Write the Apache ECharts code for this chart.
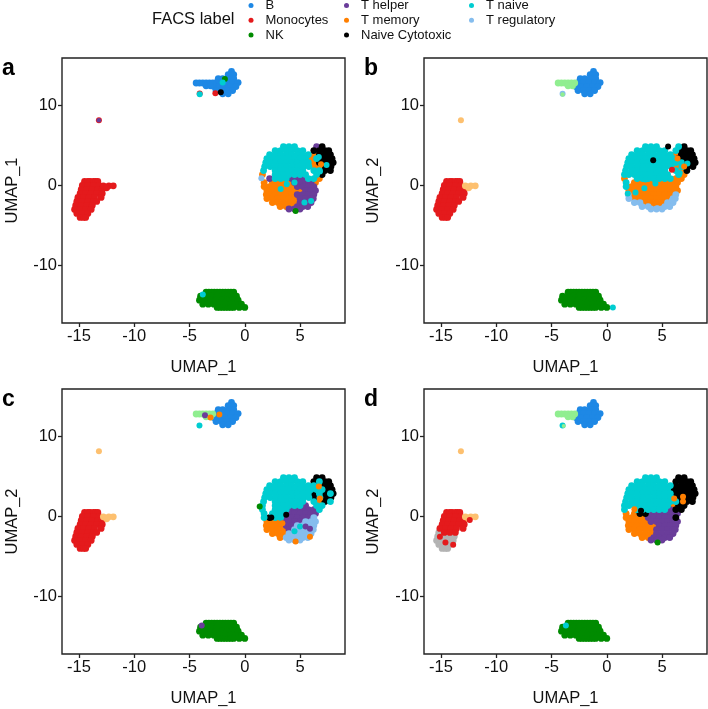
<!DOCTYPE html>
<html><head><meta charset="utf-8">
<style>html,body{margin:0;padding:0;background:#fff}#c{width:708px;height:709px}</style>
<script src="https://cdn.jsdelivr.net/npm/echarts@6/dist/echarts.min.js"></script>
</head><body><div id="c"></div>
<script>
// Rows are [y, x, x, x ...]: UMAP coordinates of visible cells
const legendCol1 = ['B','Monocytes','NK'];
const legendCol2 = ['T helper','T memory','Naive Cytotoxic'];
const legendCol3 = ['T naive','T regulatory'];
const xTicks = [-15,-10,-5,0,5];
const yTicks = [-10,0,10];

// shared islands
const bCore = [[14.2,-1.2],[13.8,-1.5,-1.0],[13.3,-2.4,-2,-1.5,-1],[12.8,-2.6,-2.1,-1.6,-1.1,-.6],[12.3,-2.8,-2.3,-1.8,-1.3,-.8],[11.8,-2.6,-2.1,-1.6,-1.1],[11.4,-2,-1.5]];
const bArm = [[12.75,-4.4,-4.1,-3.8,-3.5,-3.2,-2.9],[12.4,-3.5,-3.1]];
const monoCore = [[.45,-14.5,-14.2,-14,-13.7,-13.5,-13.3],[-.05,-14.7,-14.2,-13.7,-13.2],[-.55,-14.8,-14.3,-13.8,-13.3,-12.9],[-1.05,-14.9,-14.4,-13.9,-13.4,-12.9],[-1.55,-15.1,-14.6,-14.1,-13.6,-13],[-2.05,-15.2,-14.7,-14.2,-13.7,-13.4],[-2.55,-15.3,-14.8,-14.3,-13.8],[-3.05,-15.4,-14.9,-14.4,-13.9],[-3.55,-15.2,-14.7,-14.2],[-4.05,-14.9,-14.6,-14.4]];
const monoTail = [[-.1,-12.8,-12.3,-11.9],[-.35,-12.5]];
const nkCells = [[-13.4,-3.5,-3.25,-3,-2.75,-2.5,-2.25,-2,-1.75,-1.5,-1.25,-1],[-13.9,-4,-3.5,-3,-2.5,-2,-1.5,-1,-.75],[-14.4,-4.1,-3.6,-3.1,-2.6,-2.1,-1.6,-1.1,-.6],[-14.9,-3.8,-3.3,-2.8,-2.3,-1.8,-1.3,-.8,-.3],[-15.3,-2.5,-2.25,-2,-1.75,-1.5,-1.25,-1,-.5,0]];
const dMonoRed = [[.45,-14.5,-14.2,-14,-13.7,-13.5,-13.3],[-.05,-14.7,-14.2,-13.7,-13.2],[-.55,-14.8,-14.3,-13.8,-13.3,-12.9],[-1.05,-14.9,-14.4,-13.9,-13.4,-12.9],[-1.55,-15.1,-14.6,-14.1,-13.6,-13],[-2.05,-14.7,-14.2,-13.7]];
const dMonoGrey = [[-2.05,-15.2],[-2.55,-15.3,-14.8,-14.3,-13.8],[-3.05,-15.4,-14.9,-14.4,-13.9],[-3.55,-15.2,-14.7,-14.2],[-4.05,-14.9,-14.6,-14.4]];

// panel a
const aNaive = [[4.8,3.5,4,4.5],[4.3,2.75,3.25,3.75,4.25,4.75,5.25],[3.8,2.25,2.75,3.25,3.75,4.25,4.75,5.25,5.75],[3.3,2,2.5,3,3.5,4,4.5,5,5.5,6.5],[2.8,1.9,2.25,2.75,3.25,3.75,4.25,4.75,5.25,5.75],[2.3,1.8,2.3,2.8,3.3,3.8,4.3,4.8,5.3,5.8],[1.8,1.7,2.75,3.25,3.75,4.25,4.75,5.25,6.25,6.75],[1.3,2.75,3,3.5,4,4.5,5,5.5,6.5],[.8,2.75,3.25,3.75,5.75,6.25]];
const aCytotoxic = [[4.8,7],[4.3,6.25,6.75,7.25,7.6],[3.8,6.75,7.25,7.75],[3.3,7,7.5,7.9],[2.8,6.75,7.25,7.75,8],[2.3,7.3,7.8],[1.8,7.25,7.75],[1.3,7]];
const aMemory = [[3.8,6.25],[3.3,6],[2.8,6.25],[2.3,6.3,6.8],[1.3,1.6],[.8,6.75],[.3,1.75,2.5,3,3.5,4,6.4],[-.2,1.75,2.25,2.75,3.25,3.75,4.25],[-.7,2,2.5,3,3.5,4,4.5,5],[-1.2,1.95,2.25,2.75,3.25,3.75,4.25],[-1.7,2,2.5,3,3.5,4,4.5],[-2.2,2.5,3,3.5,4,4.5],[-2.7,3.2,3.75,4.25]];
const aHelper = [[4.8,6.5],[.8,2.25,4.25,4.75,5.25],[.3,4.5,5,5.5,6],[-.2,4.75,5.25,5.75,6.25],[-.7,5.5,6,6.4],[-1.2,4.75,5.25,5.75,6.25],[-1.7,5,5.5,6,6.2],[-2.2,5,5.5,6],[-2.7,4.75,5.25,5.7],[-3,4,4.5,5]];
const aStray = [[-13.2,8.1,'Monocytes'],[-13.2,8.1,'T helper',4.6],[-4.08,11.45,'Monocytes'],[-4.08,11.35,'T naive'],[-1.8,13.25,'NK'],[-2,12.8,'T naive'],[-2.66,11.46,'Monocytes'],[-2.17,11.58,'Naive Cytotoxic'],[-3.8,-13.7,'T naive'],[4.5,.3,'T naive'],[3.8,.1,'T naive'],[3.25,-.5,'T naive'],[5.4,-2.2,'T naive'],[6,-2,'T naive'],[1.5,.85,'T regulatory'],[4.6,-3.25,'NK'],[6.7,3.5,'T naive'],[7.4,2.5,'T naive'],[6.8,1.7,'T naive'],[6.9,2.6,'T memory']];

// panel b
const bNaive = [[4.8,3.5,4,4.5,6.5],[4.3,2.75,3.25,3.75,4.25,4.75,5.25,6.25],[3.8,2.25,2.75,3.25,3.75,4.25,4.75,5.25,5.75],[3.3,2,2.5,3,3.5,4,4.5,5,5.5,6],[2.8,1.9,2.25,2.75,3.25,3.75,4.25,4.75,5.25,5.75,6.25,6.75],[2.3,1.8,2.3,2.8,3.3,3.8,4.3,4.8,5.3,5.8,6.8],[1.8,1.7,2.25,2.75,3.25,3.75,4.25,4.75,5.25,6.25],[1.3,1.6,2,2.5,3,3.5,4,4.5,5,5.5,6.5],[.8,2.75,3.25,3.75,4.25,4.75,5.25,5.75],[.3,1.75],[-.2,1.75]];
const bCytotoxic = [[4.8,7],[4.3,6.75,7.25,7.6],[3.8,6.75,7.25,7.75],[3.3,6.5,7,7.5,7.9],[2.8,7.25,7.75,8],[2.3,7.3,7.8],[1.8,7.25]];
const bMemory = [[3.8,6.25],[2.3,6.3],[1.8,6.75],[1.3,7],[.8,1.6,6.25,6.75],[.3,2.5,3,3.5,4,4.5,5,5.5,6,6.4],[-.2,2.25,2.75,3.25,3.75,4.25,4.75,5.25,5.75,6.25],[-.7,2,2.5,3,3.5,4,4.5,5,5.5,6,6.4],[-1.2,2.25,2.75,3.25,3.75,4.25,4.75,5.25,5.75],[-1.7,2.5,3,3.5,4,4.5,5,5.5],[-2.2,3.5,4,4.5,5],[-2.7,4.25,4.75]];
const bRegulatory = [[-1.2,1.95,6.25],[-1.7,2,6,6.2],[-2.2,2.5,3,5.5,6],[-2.7,3.2,3.75,5.25,5.7],[-3,4,4.5,5]];
const bStray = [[-4,11.4,'T regulatory'],[-4,11.3,'Light green',4.5],[4.2,3.1,'Naive Cytotoxic'],[5.9,1.9,'Monocytes'],[5.55,4.8,'Naive Cytotoxic'],[4.9,.9,'T naive'],[3.4,-.4,'T naive'],[2.6,-.95,'T naive'],[1.9,-1.05,'T naive'],[.55,-15.3,'T naive'],[6.6,1.5,'T naive'],[7.3,2.7,'T naive'],[7,2.3,'T memory'],[6.4,3.3,'T memory'],[4.6,-2.9,'T regulatory'],[5.9,-1.9,'T regulatory'],[4.4,.2,'T naive'],[3.5,.7,'T naive'],[-13.2,8.1,'Light orange']];

// panel c
const cNaive = [[4.8,3.5,4,4.5],[4.3,2.75,3.25,3.75,4.25,4.75,5.25,6.75],[3.8,2.25,2.75,3.25,3.75,4.25,4.75,5.25,5.75,6.25],[3.3,2,2.5,3,3.5,4,4.5,5,5.5,6,6.5,7],[2.8,1.9,2.25,2.75,3.25,3.75,4.25,4.75,5.25,5.75,6.75,7.75],[2.3,1.8,2.3,2.8,3.3,3.8,4.3,4.8,5.3,5.8,6.8],[1.8,1.7,2.75,3.25,3.75,4.25,4.75,5.25,6.25,7.75],[1.3,1.6,2.75,3,3.5,4,4.5,5,6.5,7],[.8,1.6,2.75,3.25,3.75,6.75],[.3,1.75,2.5,3,3.5],[-.2,1.75,2.75,3.25]];
const cCytotoxic = [[4.8,6.5,7],[4.3,6.25,7.25,7.6],[3.8,7.25,7.75],[3.3,7.5,7.9],[2.8,6.25,7.25,8],[2.3,6.3,7.3,7.8],[1.8,7.25],[-.2,2.25]];
const cMemory = [[3.8,6.75],[1.8,6.75],[-.7,2,2.5,3],[-1.2,1.95,2.25,2.75,3.25],[-1.7,2,2.5,3,3.5],[-2.2,2.5,3,3.5],[-2.7,3.2]];
const cHelper = [[1.3,5.5],[.8,4.25,4.75,5.25,5.75,6.25],[.3,4,4.5,5,5.5,6,6.4],[-.2,3.75,4.25,4.75,5.25,5.75],[-.7,3.5,4,4.5,5],[-1.2,3.75,4.25],[-1.7,4]];
const cRegulatory = [[-.2,6.25],[-.7,5.5,6,6.4],[-1.2,4.75,5.25,5.75,6.25],[-1.7,4.5,5,5.5,6,6.2],[-2.2,4,4.5,5,5.5,6],[-2.7,3.75,4.25,4.75,5.25,5.7],[-3,4,4.5,5]];
const cStray = [[-4.35,12.7,'Light green',4.5],[-3.6,12.6,'T helper'],[-4.1,11.3,'T naive'],[-2.3,12.7,'T memory'],[-3.1,12.3,'T memory'],[-3.9,-13.7,'T helper'],[1.35,1.2,'NK'],[3.75,.15,'Naive Cytotoxic'],[2.4,-.2,'Naive Cytotoxic'],[3.4,-.9,'T memory'],[4.5,-1.9,'T naive'],[5,-1.3,'T naive'],[5.9,-2.6,'T memory'],[4.6,-3.2,'T memory'],[5.5,-1.3,'T helper'],[5.9,-1.6,'T helper'],[6.8,2.2,'T memory'],[6.7,3.7,'T memory'],[-13.2,8.1,'Light orange']];

// panel d
const dNaive = [[4.8,3.5,4,4.5],[4.3,2.75,3.25,3.75,4.25,4.75,5.25],[3.8,2.25,2.75,3.25,3.75,4.25,4.75,5.25,5.75],[3.3,2,2.5,3,3.5,4,4.5,5,5.5],[2.8,1.9,2.25,2.75,3.25,3.75,4.25,4.75,5.25,5.75],[2.3,1.8,2.3,2.8,3.3,3.8,4.3,4.8,5.3,5.8],[1.8,1.7,2.25,2.75,3.25,3.75,4.25,4.75,5.25,5.75,6.25],[1.3,1.6,2,2.5,3,3.5,4,4.5,5,5.5],[.8,1.6,2.75,3.25,3.75,4.25,4.75,5.25]];
const dCytotoxic = [[4.8,6.5,7],[4.3,6.25,6.75,7.25,7.6],[3.8,6.25,6.75,7.25,7.75],[3.3,6,6.5,7,7.5,7.9],[2.8,6.25,6.75,7.25,7.75,8],[2.3,6.3,6.8,7.3,7.8],[1.8,6.75,7.25,7.75],[1.3,6.5,7],[.8,6.25,6.75],[.3,3,3.5],[-.2,6.25]];
const dMemory = [[1.3,6],[.3,1.75,2.5],[-.2,1.75,2.25,2.75,3.25],[-.7,2,2.5,3,3.5],[-1.2,1.95,2.25,2.75,3.25,3.75,4.25],[-1.7,2,2.5,3,3.5,4],[-2.2,2.5,3,3.5,4],[-2.7,3.2,3.75]];
const dHelper = [[.8,5.25,5.75],[.3,4,4.5,5,5.5,6,6.4],[-.2,3.75,4.25,4.75,5.25,5.75],[-.7,4,4.5,5,5.5,6,6.4],[-1.2,4.75,5.25,5.75,6.25],[-1.7,4.5,5,5.5,6,6.2],[-2.2,4.5,5,5.5,6],[-2.7,4.25,4.75,5.25,5.7],[-3,4,4.5,5]];
const dStray = [[-4,11.3,'T naive'],[-3.9,11.25,'Light green',4],[-3.7,-13.7,'T naive'],[6.9,2.4,'T memory'],[6.1,2.2,'T memory'],[6.9,1.8,'T memory'],[3.1,.65,'Naive Cytotoxic'],[2.5,.85,'T memory'],[4.6,-3.3,'NK'],[-15.1,-2.6,'Monocytes'],[-14.6,-3.3,'Monocytes'],[-13.9,-3.6,'Monocytes'],[-12.4,-.5,'Monocytes'],[-13.2,8.1,'Light orange']];

const colors = {'B':'#1E88E5','Monocytes':'#E41A1C','NK':'#008B00','T helper':'#6A3D9A','T memory':'#FF7F00','Naive Cytotoxic':'#000000','T naive':'#00CDD1','T regulatory':'#85BDEE','Light green':'#90EE90','Light orange':'#FDC06F','Grey':'#B3B3B3'};

const flat = rows => rows.flatMap(r => r.slice(1).map(x => [x, r[0]]));
const islands = [['B',bCore],['Light green',bArm],['Monocytes',monoCore],['Light orange',monoTail],['NK',nkCells]];
const panels = [
 {tag:'a',left:62,top:58,yName:'UMAP_1',stray:aStray,layers:[['B',bCore],['B',bArm],['Monocytes',monoCore],['Monocytes',monoTail],['NK',nkCells],['T memory',aMemory],['T helper',aHelper],['Naive Cytotoxic',aCytotoxic],['T naive',aNaive]]},
 {tag:'b',left:424,top:58,yName:'UMAP_2',stray:bStray,layers:[...islands,['T memory',bMemory],['T regulatory',bRegulatory],['Naive Cytotoxic',bCytotoxic],['T naive',bNaive]]},
 {tag:'c',left:62,top:389,yName:'UMAP_2',stray:cStray,layers:[...islands,['T memory',cMemory],['T helper',cHelper],['T regulatory',cRegulatory],['Naive Cytotoxic',cCytotoxic],['T naive',cNaive]]},
 {tag:'d',left:424,top:389,yName:'UMAP_2',stray:dStray,layers:[['B',bCore],['Light green',bArm],['Grey',dMonoGrey],['Monocytes',dMonoRed],['Light orange',monoTail],['NK',nkCells],['T memory',dMemory],['T helper',dHelper],['Naive Cytotoxic',dCytotoxic],['T naive',dNaive]]}
];
const font = 'Liberation Sans';
const grid=[],xAxis=[],yAxis=[],series=[],title=[];
panels.forEach((p,i)=>{
  grid.push({left:p.left,top:p.top,width:283,height:265,show:true,borderColor:'#222',borderWidth:1.4,backgroundColor:'transparent'});
  const lab={fontFamily:font,fontSize:16.5,color:'#111',margin:5};
  const nm={fontFamily:font,fontSize:16.5,color:'#111'};
  const tick={show:true,length:4,lineStyle:{color:'#222',width:1.3}};
  xAxis.push({gridIndex:i,type:'value',min:-16.54,max:9.07,position:'bottom',name:'UMAP_1',nameLocation:'middle',nameGap:36,nameTextStyle:nm,
    axisLine:{show:false,onZero:false},splitLine:{show:false},axisTick:{...tick,customValues:xTicks},axisLabel:{...lab,customValues:xTicks}});
  yAxis.push({gridIndex:i,type:'value',min:-17.25,max:15.875,position:'left',name:p.yName,nameLocation:'middle',nameGap:i%2?42:41,nameTextStyle:nm,
    axisLine:{show:false,onZero:false},splitLine:{show:false},axisTick:{...tick,customValues:yTicks},axisLabel:{...lab,customValues:yTicks}});
  title.push({text:p.tag,left:p.left-60,top:p.top-1,padding:0,textStyle:{fontFamily:font,fontSize:23,fontWeight:'bold',color:'#000'}});
  p.layers.forEach(([name,rows])=>series.push({type:'scatter',name,xAxisIndex:i,yAxisIndex:i,symbolSize:6.8,silent:true,animation:false,itemStyle:{color:colors[name],opacity:1},data:flat(rows)}));
  series.push({type:'scatter',name:'stray '+p.tag,xAxisIndex:i,yAxisIndex:i,silent:true,animation:false,
    data:p.stray.map(s=>({value:[s[0],s[1]],symbolSize:s[3]||6,itemStyle:{color:colors[s[2]],opacity:1}}))});
});
title.push({text:'FACS label',left:152,top:11,padding:0,textStyle:{fontFamily:font,fontSize:16.5,fontWeight:'normal',color:'#111'}});
const leg=(data,left)=>({data,left,top:-1,orient:'vertical',padding:0,icon:'circle',itemWidth:5,itemHeight:5,itemGap:1.8,selectedMode:false,itemStyle:{opacity:1},
  textStyle:{fontFamily:font,fontSize:13,lineHeight:13,color:'#111',padding:[0,0,0,7]}});
const chart=echarts.init(document.getElementById('c'),null,{renderer:'canvas'});
chart.setOption({animation:false,backgroundColor:'#fff',title,grid,xAxis,yAxis,series,legend:[leg(legendCol1,248.5),leg(legendCol2,344),leg(legendCol3,469)]});
</script></body></html>
